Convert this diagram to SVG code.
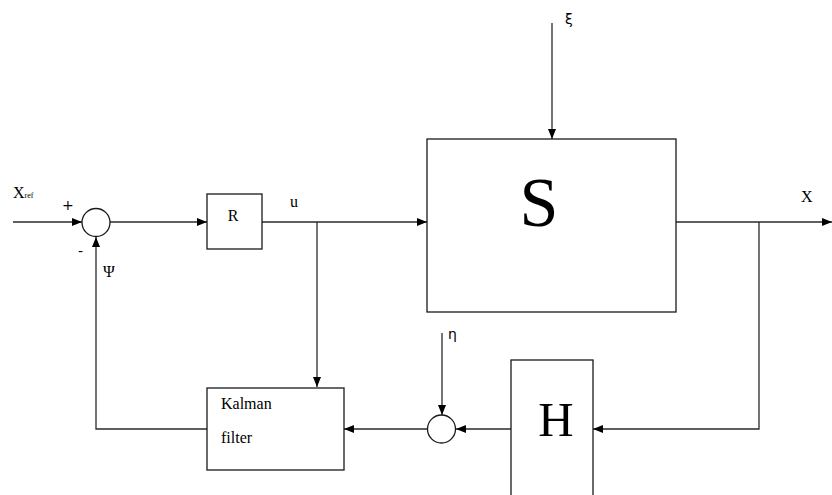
<svg xmlns="http://www.w3.org/2000/svg" width="832" height="495" viewBox="0 0 832 495">
<style>
.ln{fill:none;stroke:#2a2a2a;stroke-width:1.3}
.bx{fill:#fff;stroke:#1a1a1a;stroke-width:1.3}
text{fill:#000}
.sf{font-family:'Liberation Serif','Times New Roman','DejaVu Serif',serif}
.ss{font-family:'DejaVu Sans','Liberation Sans',sans-serif}
</style>
<defs>
<marker id="ah" viewBox="0 0 10 10" refX="10" refY="5" markerWidth="14" markerHeight="10" markerUnits="userSpaceOnUse" orient="auto">
<path d="M0,1 L10,5 L0,9 Z" fill="#000"/>
</marker>
</defs>
<g id="connectors">
<line class="ln" x1="13" y1="222" x2="82" y2="222" marker-end="url(#ah)"/>
<line class="ln" x1="110" y1="222" x2="207" y2="222" marker-end="url(#ah)"/>
<line class="ln" x1="262" y1="222" x2="427" y2="222" marker-end="url(#ah)"/>
<line class="ln" x1="317" y1="222" x2="317" y2="387" marker-end="url(#ah)"/>
<line class="ln" x1="552" y1="23" x2="552" y2="139" marker-end="url(#ah)"/>
<line class="ln" x1="676" y1="222" x2="832" y2="222" marker-end="url(#ah)"/>
<polyline class="ln" points="759,222 759,429 593,429" marker-end="url(#ah)"/>
<line class="ln" x1="511" y1="429" x2="456" y2="429" marker-end="url(#ah)"/>
<line class="ln" x1="442" y1="333" x2="442" y2="415" marker-end="url(#ah)"/>
<line class="ln" x1="428" y1="429" x2="344" y2="429" marker-end="url(#ah)"/>
<polyline class="ln" points="207,429 96,429 96,237" marker-end="url(#ah)"/>
</g>
<g id="sum1">
<circle class="bx" cx="96" cy="222.5" r="14"/>
<text class="ss" x="62" y="210" font-size="14">+</text>
<text class="ss" x="78" y="256" font-size="14">-</text>
</g>
<g id="R">
<rect class="bx" x="207" y="194" width="55" height="55"/>
<text class="sf" x="233" y="221" font-size="16" text-anchor="middle">R</text>
</g>
<g id="S">
<rect class="bx" x="427" y="139" width="249" height="173"/>
<text class="sf" x="539" y="226" font-size="70" text-anchor="middle">S</text>
</g>
<g id="Kalman">
<rect class="bx" x="207" y="388" width="137" height="82"/>
<text class="sf" x="221" y="409" font-size="16">Kalman</text>
<text class="sf" x="221" y="443" font-size="16">filter</text>
</g>
<g id="sum2">
<circle class="bx" cx="441.5" cy="429" r="14"/>
</g>
<g id="H">
<rect class="bx" x="511" y="360" width="82" height="145"/>
<text class="sf" x="556" y="436" font-size="49" text-anchor="middle">H</text>
</g>
<g id="labels">
<text class="sf" x="13" y="198" font-size="16">X<tspan font-size="8">ref</tspan></text>
<text class="sf" x="290" y="207" font-size="16">u</text>
<text class="sf" x="801" y="202" font-size="16">X</text>
<text class="sf" x="103" y="277" font-size="16">Ψ</text>
<text class="ss" x="565" y="24" font-size="14">ξ</text>
<text class="ss" x="448" y="339" font-size="14">η</text>
</g>
</svg>
